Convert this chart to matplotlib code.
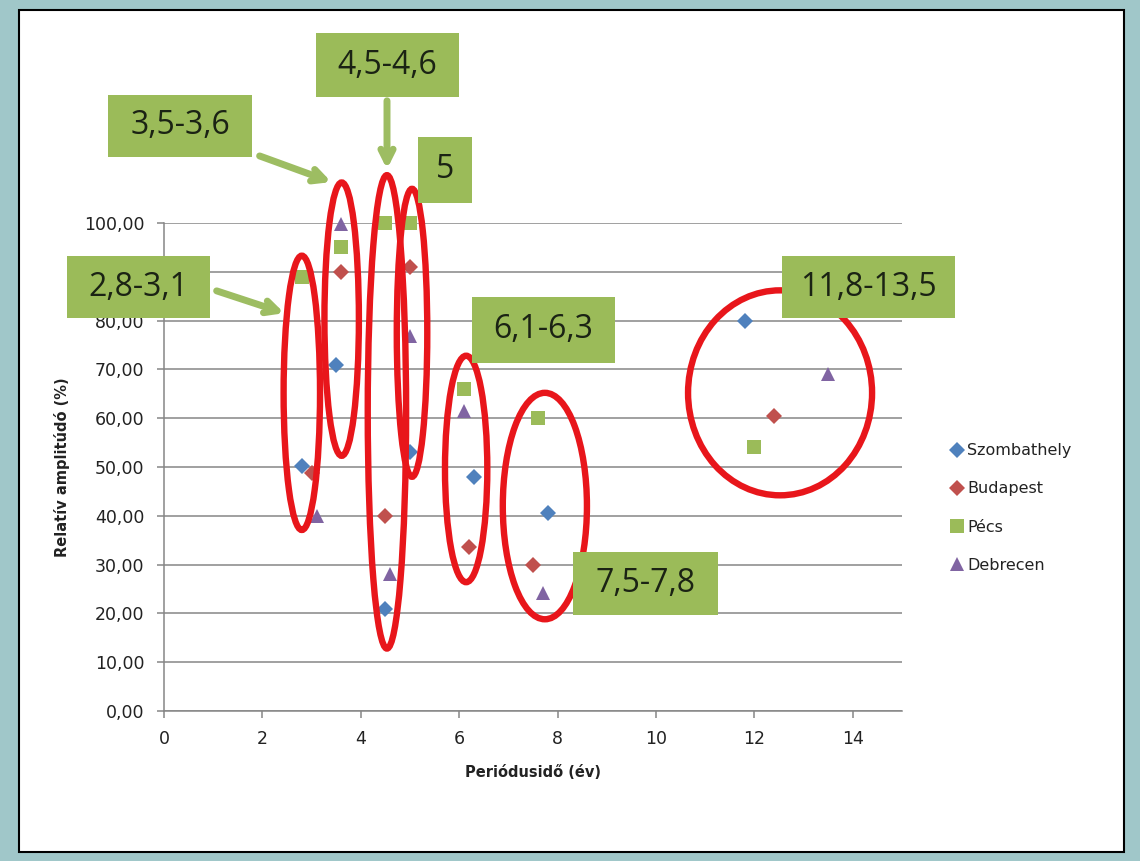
import matplotlib
matplotlib.use('Agg')
import matplotlib.pyplot as plt
from matplotlib.patches import Ellipse, Rectangle, FancyArrowPatch
from matplotlib.ticker import FuncFormatter, MultipleLocator

# periodusido (ev) es relativ amplitudo (%) varosonkent
per_szombathely = [2.8, 3.5, 4.5, 5.0, 6.3, 7.8, 11.8]
amp_szombathely = [50.2, 71.0, 21.0, 53.0, 48.0, 40.6, 80.0]
per_budapest = [3.0, 3.6, 4.5, 5.0, 6.2, 7.5, 12.4]
amp_budapest = [48.8, 90.0, 40.0, 91.0, 33.7, 30.0, 60.5]
per_pecs = [2.8, 3.6, 4.5, 5.0, 6.1, 7.6, 12.0]
amp_pecs = [89.0, 95.0, 100.0, 100.0, 66.0, 60.0, 54.2]
per_debrecen = [3.1, 3.6, 4.6, 5.0, 6.1, 7.7, 13.5]
amp_debrecen = [40.0, 99.8, 28.0, 76.8, 61.5, 24.2, 69.0]

varosok = ["Szombathely", "Budapest", "Pécs", "Debrecen"]
csoport_cimkek = ["2,8-3,1", "3,5-3,6", "4,5-4,6", "5", "6,1-6,3", "7,5-7,8", "11,8-13,5"]

W, H = 1140, 861


def fp(x, y):
    # kep pixel (bal felso sarok) -> figure koordinata
    return x / W, 1 - y / H


fig = plt.figure(figsize=(W / 100, H / 100), dpi=100)
fig.patch.set_facecolor('#a0c7c9')
x0, y0 = fp(19, 852)
x1, y1 = fp(1124, 10)
fig.add_artist(Rectangle((x0, y0), x1 - x0, y1 - y0, transform=fig.transFigure,
                         facecolor='white', edgecolor='black', lw=1.5, zorder=0))

ax = fig.add_axes([0.1439, 0.1742, 0.6474, 0.5668])
ax.set_facecolor('none')

szinek = ['#4f81bd', '#c0504d', '#9bbb59', '#8064a2']
jelolok = ['D', 'D', 's', '^']
meretek = [8.5, 8.5, 10.5, 10.5]
adatok = [(per_szombathely, amp_szombathely), (per_budapest, amp_budapest),
          (per_pecs, amp_pecs), (per_debrecen, amp_debrecen)]
for (px_, py_), nev, c, m, s in zip(adatok, varosok, szinek, jelolok, meretek):
    ax.plot(px_, py_, linestyle='none', marker=m, markersize=s, color=c,
            markeredgewidth=0, label=nev, zorder=3, clip_on=False)

ax.set_xlim(0, 15)
ax.set_ylim(0, 100)
ax.set_xticks(range(0, 15, 2))
ax.yaxis.set_major_locator(MultipleLocator(10))
ax.yaxis.set_major_formatter(FuncFormatter(lambda v, p: f"{v:.2f}".replace('.', ',')))
ax.grid(axis='y', color='#868686', lw=1.1)
ax.set_axisbelow(True)
for side in ['top', 'right']:
    ax.spines[side].set_visible(False)
for side in ['left', 'bottom']:
    ax.spines[side].set_color('#868686')
    ax.spines[side].set_linewidth(1.1)
ax.tick_params(axis='both', colors='#868686', labelcolor='#222222', labelsize=12.5, length=5, width=1.1)
ax.tick_params(axis='y', pad=9)
ax.tick_params(axis='x', pad=9)
ax.set_xlabel("Periódusidő (év)", fontsize=10.5, fontweight='bold', color='#222222', labelpad=12)
ax.set_ylabel("Relatív amplitúdó (%)", fontsize=10.5, fontweight='bold', color='#222222', labelpad=10)

leg = fig.legend(loc='center left', bbox_to_anchor=(0.828, 0.41), frameon=False,
                 fontsize=11.5, labelspacing=1.45, handlelength=0.7, handletextpad=0.25,
                 markerscale=0.9, borderpad=0)
for t in leg.get_texts():
    t.set_color('#222222')

# piros ellipszisek a csoportok korul (kozeppont x, y, szelesseg, magassag)
ellipszisek = [(2.8, 65.2, 0.74, 56.2), (3.61, 80.3, 0.70, 56.0), (4.53, 61.3, 0.78, 97.0),
               (5.04, 77.5, 0.62, 59.0), (6.14, 49.6, 0.86, 46.4), (7.74, 42.0, 1.71, 46.4),
               (12.52, 65.2, 3.74, 42.0)]
for cx, cy, w, h in ellipszisek:
    ax.add_patch(Ellipse((cx, cy), w, h, fill=False, edgecolor='#e8161b', lw=4.6,
                         zorder=5, clip_on=False))

# zold cimkek (bal, felso, jobb, also pixelben)
dobozok = [(67, 256, 210, 318), (108, 95, 252, 157), (316, 33, 459, 97), (418, 137, 472, 203),
           (472, 297, 615, 363), (573, 552, 718, 615), (782, 256, 955, 318)]
for cimke, (l, t, r, b) in zip(csoport_cimkek, dobozok):
    bx, by = fp(l, b)
    tx, ty = fp(r, t)
    fig.add_artist(Rectangle((bx, by), tx - bx, ty - by, transform=fig.transFigure,
                             facecolor='#9bbb59', edgecolor='none', zorder=10))
    fig.text((bx + tx) / 2, (by + ty) / 2, cimke, ha='center', va='center', fontsize=23,
             family='Open Sans', color='#1b2314', zorder=11)

nyilak = [((214, 290), (287, 314)), ((257, 155), (334, 183)), ((387, 98), (387, 172))]
for start, end in nyilak:
    fig.add_artist(FancyArrowPatch(fp(*start), fp(*end), transform=fig.transFigure,
                                   arrowstyle='->', mutation_scale=22, lw=5,
                                   color='#9dbd62', zorder=9))

fig.savefig('out.png', dpi=100, facecolor=fig.get_facecolor())
